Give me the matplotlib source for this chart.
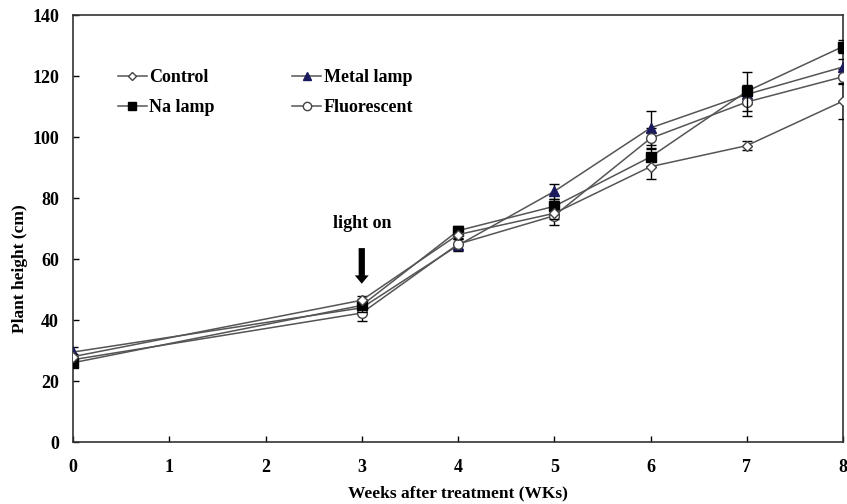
import matplotlib
matplotlib.use("Agg")
import matplotlib.pyplot as plt
from matplotlib.lines import Line2D

weeks = [0, 3, 4, 5, 6, 7, 8]
control = [28.0, 46.5, 68.0, 75.0, 90.3, 97.2, 111.8]
control_err = [1.0, 1.5, 1.5, 2.0, 4.0, 1.5, 6.0]
metal = [29.5, 44.0, 64.5, 82.2, 103.0, 114.0, 123.0]
metal_err = [1.5, 2.0, 2.0, 2.5, 5.5, 3.0, 2.5]
na = [26.0, 44.8, 69.3, 77.3, 93.5, 115.0, 129.7]
na_err = [1.0, 2.0, 1.5, 2.5, 3.0, 6.5, 2.0]
fluor = [27.0, 42.3, 64.9, 74.2, 99.6, 111.5, 119.8]
fluor_err = [1.0, 2.5, 2.0, 3.0, 3.5, 4.5, 2.5]

xticks = list(range(0, 9))
yticks = list(range(0, 141, 20))

plt.rcParams['font.family'] = ['Liberation Serif', 'DejaVu Serif']
plt.rcParams['font.weight'] = 'bold'

fig = plt.figure(figsize=(8.47, 5.04), dpi=100)
ax = fig.add_axes([0.0862, 0.123, 0.9091, 0.847])

line_color = '#555555'
common = dict(linewidth=1.1, elinewidth=1.0, ecolor='black', capsize=3.5, capthick=1.0)

styles = {
    'Control': dict(marker='D', mfc='white', mec='#444444', ms=5.5),
    'Metal lamp': dict(marker='^', mfc='#1a1a5c', mec='#1a1a5c', ms=7),
    'Na lamp': dict(marker='s', mfc='black', mec='black', ms=7),
    'Fluorescent': dict(marker='o', mfc='white', mec='#444444', ms=7),
}

ax.errorbar(weeks, metal, yerr=metal_err, color=line_color, zorder=3, **styles['Metal lamp'], **common)
ax.errorbar(weeks, fluor, yerr=fluor_err, color=line_color, zorder=3, **styles['Fluorescent'], **common)
ax.errorbar(weeks, na, yerr=na_err, color=line_color, zorder=4, **styles['Na lamp'], **common)
ax.errorbar(weeks, control, yerr=control_err, color=line_color, zorder=5, **styles['Control'], **common)

ax.set_xlim(0, 8)
ax.set_ylim(0, 140)
ax.set_xticks(xticks)
ax.set_yticks(yticks)
ax.tick_params(axis='both', direction='in', length=4, labelsize=13, width=1)
ax.tick_params(axis='x', pad=12)
ax.tick_params(axis='y', pad=10)
for lab in ax.get_xticklabels() + ax.get_yticklabels():
    lab.set_fontweight('bold')
for sp in ax.spines.values():
    sp.set_linewidth(1.2)
    sp.set_color('#333333')

ax.set_xlabel('Weeks after treatment (WKs)', fontsize=12.5, fontweight='bold', labelpad=7)
ax.set_ylabel('Plant height (cm)', fontsize=12.5, fontweight='bold')
ax.yaxis.set_label_coords(-0.0584, 0.405)

ax.annotate('', xy=(3, 51), xytext=(3, 64.5),
            arrowprops=dict(arrowstyle='simple,head_width=1.0,head_length=0.6,tail_width=0.45', color='black', lw=0))
ax.text(3, 71.5, 'light on', ha='center', va='center', fontsize=13, fontweight='bold')

order = ['Control', 'Na lamp', 'Metal lamp', 'Fluorescent']
handles = [Line2D([], [], color=line_color, lw=1.1, **dict(styles[n], ms=styles[n]['ms'] - 1)) for n in order]
leg = ax.legend(handles, order, ncol=2,
                loc='upper left', bbox_to_anchor=(0.058, 0.874), frameon=False,
                handlelength=1.6, columnspacing=4.3, labelspacing=0.75,
                handletextpad=0.15, borderpad=0, borderaxespad=0,
                prop=dict(weight='bold', size=13))

fig.savefig('out.png', dpi=100)
